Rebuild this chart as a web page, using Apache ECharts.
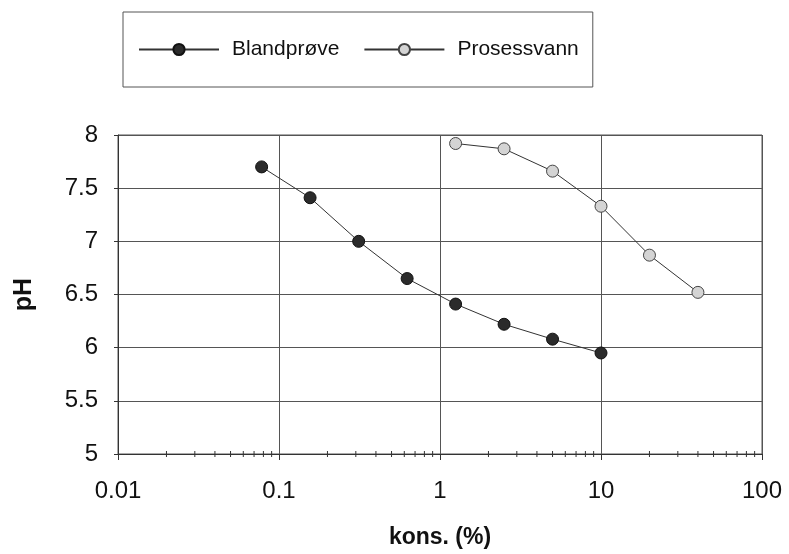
<!DOCTYPE html>
<html>
<head>
<meta charset="utf-8">
<script src="https://cdn.jsdelivr.net/npm/echarts@6/dist/echarts.min.js"></script>
<style>html,body{margin:0;padding:0;background:#fff}#c{width:789px;height:554px}</style>
</head>
<body>
<div id="c"></div>
<script>
const seriesNames = ['Blandprøve', 'Prosessvann'];
const blandX = [0.078, 0.156, 0.3125, 0.625, 1.25, 2.5, 5, 10];
const blandY = [7.70, 7.41, 7.00, 6.65, 6.41, 6.22, 6.08, 5.95];
const prosX = [1.25, 2.5, 5, 10, 20, 40];
const prosY = [7.92, 7.87, 7.66, 7.33, 6.87, 6.52];
const xTickLabels = ['0.01', '0.1', '1', '10', '100'];
const minorTicks = [0.02,0.03,0.04,0.05,0.06,0.07,0.08,0.09,
  0.2,0.3,0.4,0.5,0.6,0.7,0.8,0.9,
  2,3,4,5,6,7,8,9,
  20,30,40,50,60,70,80,90];
const yMin = 5, yMax = 8, yStep = 0.5;
const xLabel = 'kons. (%)';
const yLabel = 'pH';

const font = 'Liberation Sans, Arial, Helvetica, sans-serif';
const chart = echarts.init(document.getElementById('c'), null, {renderer: 'canvas'});
chart.setOption({
  backgroundColor: '#fff',
  animation: false,
  textStyle: {fontFamily: font},
  legend: {
    data: seriesNames,
    left: 123, top: 12,
    padding: [27, 14, 27, 15],
    itemGap: 24,
    itemWidth: 80, itemHeight: 14,
    borderColor: '#555', borderWidth: 1,
    textStyle: {fontSize: 21, color: '#111', fontFamily: font, padding: [0, 0, 0, 8]}
  },
  grid: {left: 118, right: 27, top: 135, bottom: 99, show: true, borderColor: '#555', borderWidth: 1, backgroundColor: 'transparent'},
  xAxis: {
    type: 'log', logBase: 10, min: 0.01, max: 100,
    name: xLabel, nameLocation: 'middle', nameGap: 72,
    nameTextStyle: {fontSize: 23, fontWeight: 'bold', color: '#111', fontFamily: font},
    axisLine: {show: true, lineStyle: {color: '#333', width: 1}},
    axisTick: {show: true, length: 6, lineStyle: {color: '#333'}},
    axisLabel: {fontSize: 24, color: '#111', margin: 25, fontFamily: font,
      formatter: function (v) { const i = Math.round(Math.log10(v)) + 2; return xTickLabels[i] !== undefined ? xTickLabels[i] : ''; }},
    splitLine: {show: true, lineStyle: {color: '#555', width: 1}},
    minorTick: {show: false}
  },
  yAxis: {
    type: 'value', min: yMin, max: yMax, interval: yStep,
    name: yLabel, nameLocation: 'middle', nameGap: 81,
    nameTextStyle: {fontSize: 25, fontWeight: 'bold', color: '#111', fontFamily: font},
    axisLine: {show: true, lineStyle: {color: '#333', width: 1}},
    axisTick: {show: true, length: 4, lineStyle: {color: '#333'}},
    axisLabel: {fontSize: 24, color: '#111', margin: 20, fontFamily: font},
    splitLine: {show: true, lineStyle: {color: '#555', width: 1}}
  },
  series: [
    {
      name: seriesNames[0], type: 'line',
      data: blandX.map((x, i) => [x, blandY[i]]),
      symbol: 'circle', symbolSize: 12,
      lineStyle: {color: '#333', width: 1},
      itemStyle: {color: '#2b2b2b', borderColor: '#111', borderWidth: 1},
      z: 3
    },
    {
      name: seriesNames[1], type: 'line',
      data: prosX.map((x, i) => [x, prosY[i]]),
      symbol: 'circle', symbolSize: 12,
      lineStyle: {color: '#333', width: 1},
      itemStyle: {color: '#d4d4d4', borderColor: '#444', borderWidth: 1},
      z: 3
    },
    {
      name: 'minorTicks', type: 'custom', silent: true,
      data: minorTicks.map(v => [v, yMin]),
      renderItem: function (params, api) {
        const p = api.coord([api.value(0), api.value(1)]);
        return {type: 'line', shape: {x1: p[0], y1: p[1] - 3, x2: p[0], y2: p[1] + 3},
          style: {stroke: '#333', lineWidth: 1}};
      },
      z: 4
    }
  ]
});
</script>
</body>
</html>
